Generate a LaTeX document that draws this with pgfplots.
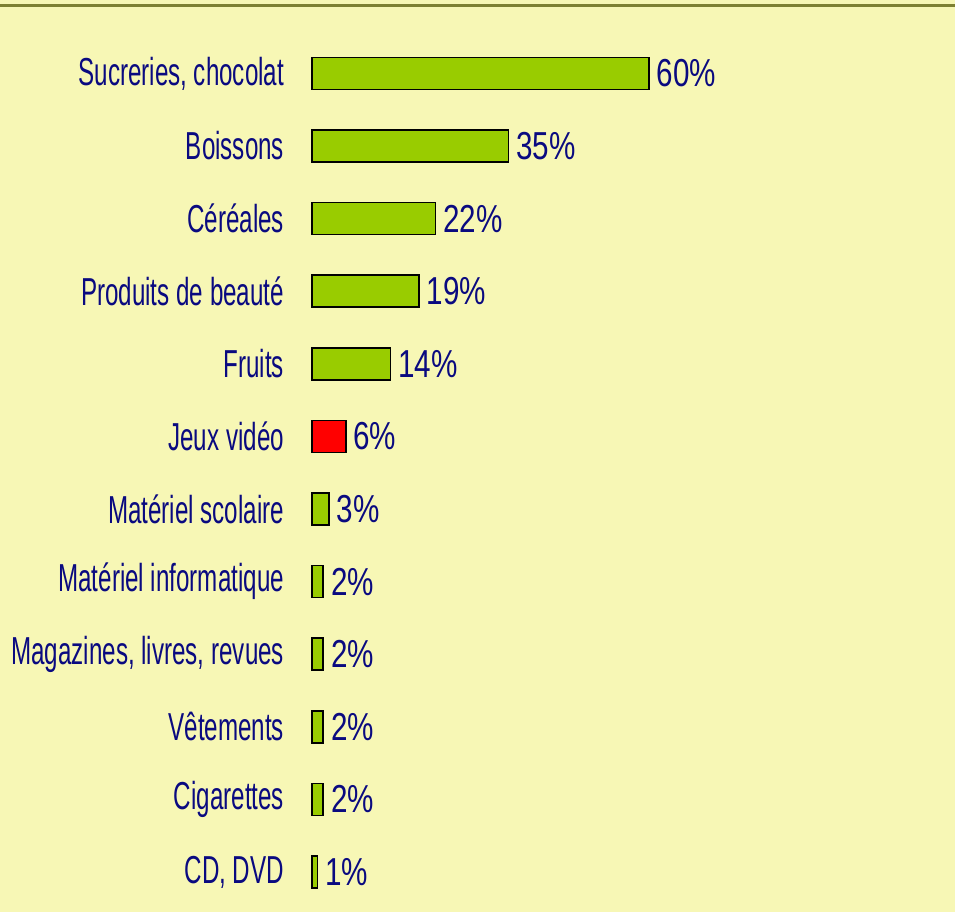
\documentclass[border=0pt]{standalone}
\usepackage{pgfplots}
\pgfplotsset{compat=1.18}
\usepackage{fontspec}
\setmainfont{Liberation Sans}
\newfontfamily\labfont{Liberation Sans}[FakeStretch=0.62]
\newfontfamily\valfont{Liberation Sans}[FakeStretch=0.76]
\definecolor{bgyel}{RGB}{247,247,181}
\definecolor{topline}{RGB}{125,128,50}
\definecolor{bargreen}{RGB}{153,204,0}
\definecolor{barred}{RGB}{255,0,0}
\definecolor{navy}{RGB}{10,10,128}
\begin{document}
\begin{tikzpicture}
\fill[bgyel] (0,0) rectangle (477.5pt,456pt);
\begin{axis}[
    at={(156pt,1.85pt)}, anchor=south west,
    scale only axis,
    width=281pt, height=435.6pt,
    xmin=0, xmax=100,
    ymin=-0.5, ymax=11.5,
    xbar, bar width=16pt,
    axis line style={draw=none},
    tick style={draw=none},
    xtick=\empty,
    ytick={0,...,11},
    yticklabels={CD{,} DVD, Cigarettes, Vêtements, {Magazines, livres, revues},
        Matériel informatique, Matériel scolaire, Jeux vidéo, Fruits,
        Produits de beauté, Céréales, Boissons, {Sucreries, chocolat}},
    yticklabel style={font=\labfont\fontsize{19.5}{22}\selectfont, text=navy,
        anchor=east, inner sep=0pt, xshift=-9.5pt},
    nodes near coords={\pgfmathprintnumber{\pgfplotspointmeta}\%},
    nodes near coords style={font=\valfont\fontsize{19.5}{22}\selectfont, text=navy,
        anchor=west, inner sep=0pt, xshift=3.5pt,
        /pgf/number format/assume math mode=true,
        /pgf/number format/precision=0},
    point meta=x,
    clip=false,
]
\addplot[fill=bargreen, draw=black, line width=0.8pt, bar shift=0pt] coordinates {
    (1,0) (2,1) (2,2) (2,3) (2,4) (3,5) (14,7) (19,8) (22,9) (35,10) (60,11)
};
\addplot[fill=barred, draw=black, line width=0.8pt, bar shift=0pt] coordinates {
    (6,6)
};
\end{axis}
\draw[topline, line width=1.2pt] (0,453.3pt) -- (477.5pt,453.3pt);
\pgfresetboundingbox
\useasboundingbox (0,0) rectangle (477.5pt,456pt);
\end{tikzpicture}
\end{document}
